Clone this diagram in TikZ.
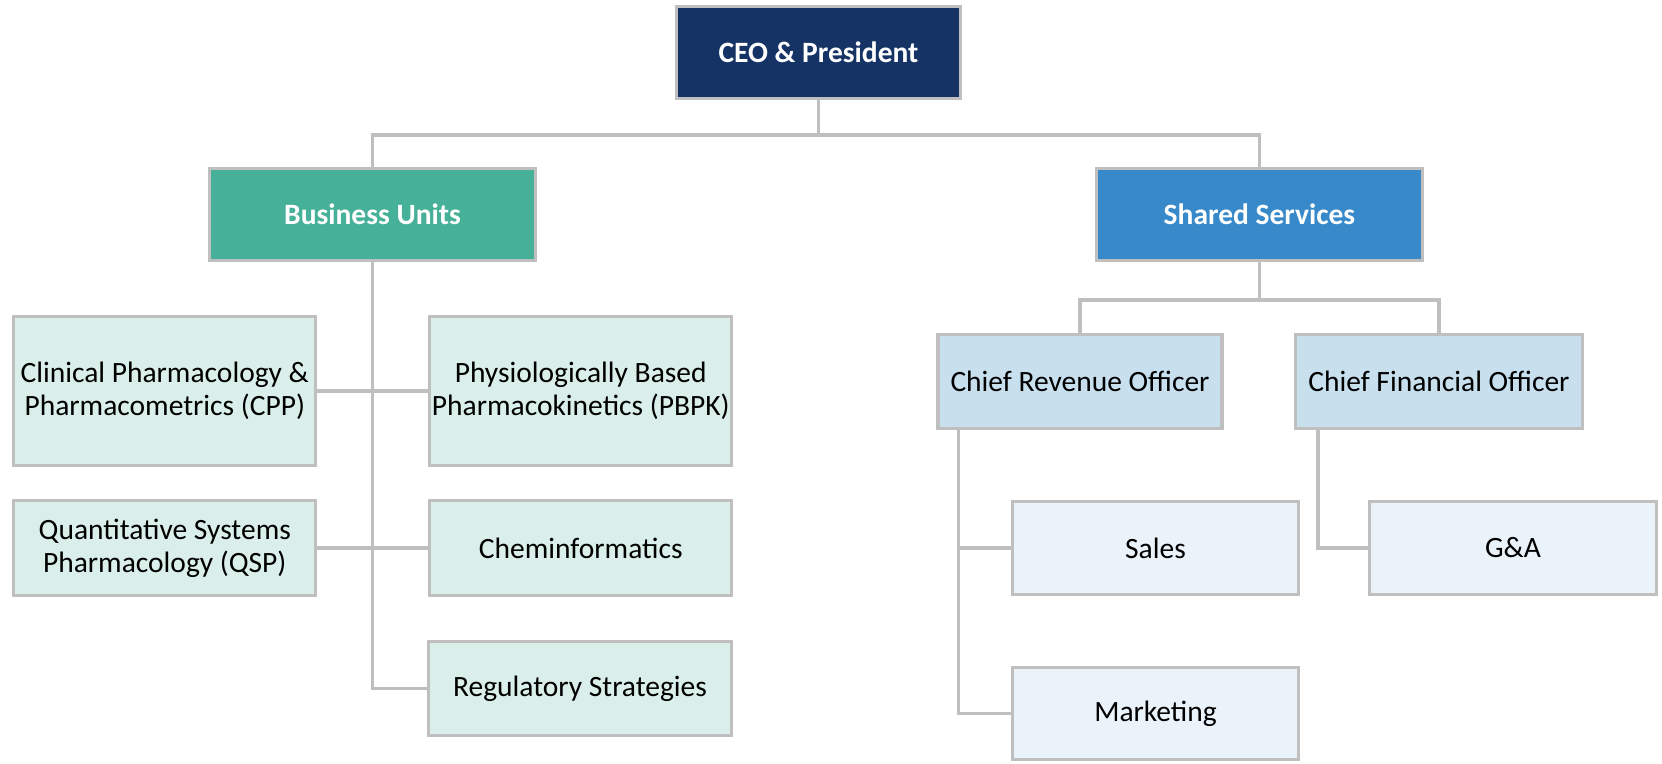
\documentclass[tikz,border=0pt]{standalone}
\usepackage{fontspec}
\setmainfont{Carlito}
\usetikzlibrary{backgrounds}
\definecolor{navy}{HTML}{163366}
\definecolor{teal}{HTML}{46B098}
\definecolor{azure}{HTML}{3789C9}
\definecolor{mint}{HTML}{DAEFEA}
\definecolor{skyl}{HTML}{C8DFEE}
\definecolor{palel}{HTML}{EBF3FA}
\definecolor{rule}{HTML}{BFBFBF}
\tikzset{
  box/.style={draw=rule, line width=3.2pt, rectangle, align=center, inner sep=2pt,
              font=\fontsize{29.5}{33}\selectfont},
  head/.style={box, text=white, font=\fontsize{29.5}{33}\selectfont\bfseries},
  wire/.style={draw=rule, line width=3.2pt}
}
\begin{document}
\begin{tikzpicture}[x=1pt,y=-1pt]
\useasboundingbox (0,0) rectangle (1662,763);
% top level
\node[head, fill=navy, minimum width=284, minimum height=92] (ceo) at (818.5,52.5) {CEO \& President};
\node[head, fill=teal, minimum width=326, minimum height=92] (bu) at (372.5,214.5) {Business Units};
\node[head, fill=azure, minimum width=326, minimum height=92] (ss) at (1259.5,214.5) {Shared Services};
% business units
\node[box, fill=mint, minimum width=302, minimum height=149] (cpp) at (164.75,391) {Clinical Pharmacology \&\\Pharmacometrics (CPP)};
\node[box, fill=mint, minimum width=302, minimum height=149] (pbpk) at (580.75,391) {Physiologically Based\\Pharmacokinetics (PBPK)};
\node[box, fill=mint, minimum width=302, minimum height=95] (qsp) at (164.75,548) {Quantitative Systems\\Pharmacology (QSP)};
\node[box, fill=mint, minimum width=302, minimum height=95] (chem) at (580.75,548) {Cheminformatics};
\node[box, fill=mint, minimum width=303, minimum height=94] (reg) at (580,688.5) {Regulatory Strategies};
% shared services
\node[box, fill=skyl, minimum width=284, minimum height=94] (cro) at (1080,381.5) {Chief Revenue Officer};
\node[box, fill=skyl, minimum width=287, minimum height=94] (cfo) at (1439,381.5) {Chief Financial Officer};
\node[box, fill=palel, minimum width=286, minimum height=93] (sales) at (1155.5,548) {Sales};
\node[box, fill=palel, minimum width=287, minimum height=93] (ga) at (1513,548) {G\&A};
\node[box, fill=palel, minimum width=286, minimum height=92] (mkt) at (1155.5,713.5) {Marketing};
% connectors
\begin{pgfonlayer}{background}
\coordinate (topbar) at (818.5,135);
\coordinate (ssbar) at (1259.5,300);
\draw[wire] (ceo.south) -- (topbar) -| (bu.north);
\draw[wire] (topbar) -| (ss.north);
\draw[wire] (bu.south) |- (reg.west);
\draw[wire] (cpp.east) -- (pbpk.west);
\draw[wire] (qsp.east) -- (chem.west);
\draw[wire] (ss.south) -- (ssbar) -| (cro.north);
\draw[wire] (ssbar) -| (cfo.north);
\draw[wire] ([xshift=22pt]cro.south west) |- (sales.west);
\draw[wire] ([xshift=22pt]cro.south west) |- (mkt.west);
\draw[wire] ([xshift=24pt]cfo.south west) |- (ga.west);
\end{pgfonlayer}
\end{tikzpicture}
\end{document}
